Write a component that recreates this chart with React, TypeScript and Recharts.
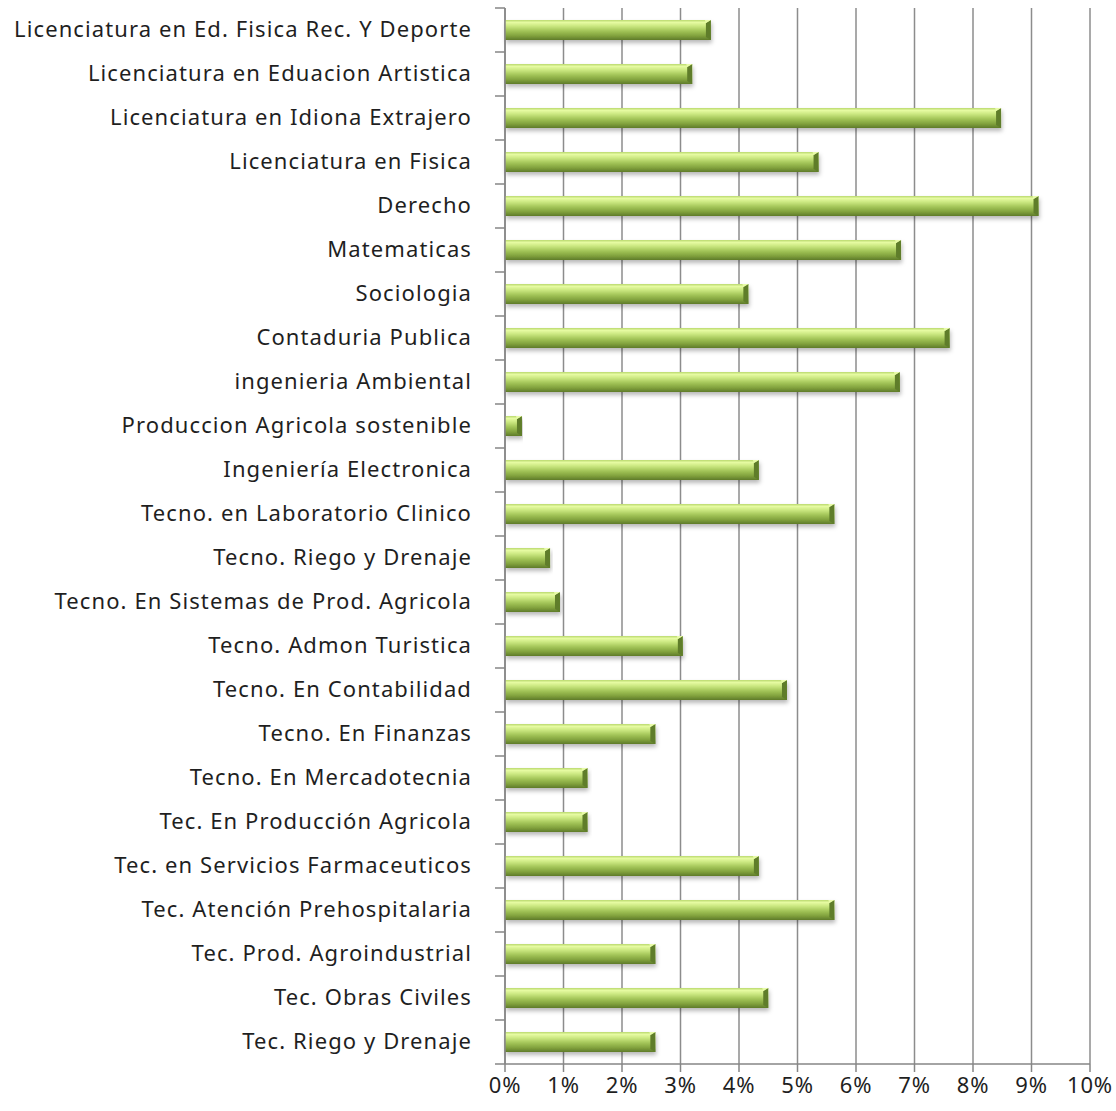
import React from "react";
import { BarChart, Bar, XAxis, YAxis, CartesianGrid } from "recharts";

const careers = [
  "Licenciatura en Ed. Fisica Rec. Y Deporte",
  "Licenciatura en Eduacion Artistica",
  "Licenciatura en Idiona Extrajero",
  "Licenciatura en Fisica",
  "Derecho",
  "Matematicas",
  "Sociologia",
  "Contaduria Publica",
  "ingenieria Ambiental",
  "Produccion Agricola sostenible",
  "Ingeniería Electronica",
  "Tecno. en Laboratorio Clinico",
  "Tecno. Riego y Drenaje",
  "Tecno. En Sistemas de Prod. Agricola",
  "Tecno. Admon Turistica",
  "Tecno. En Contabilidad",
  "Tecno. En Finanzas",
  "Tecno. En Mercadotecnia",
  "Tec. En Producción  Agricola",
  "Tec. en Servicios  Farmaceuticos",
  "Tec. Atención  Prehospitalaria",
  "Tec. Prod.  Agroindustrial",
  "Tec. Obras Civiles",
  "Tec. Riego y Drenaje",
];

const percents = [
  3.52, 3.2, 8.48, 5.36, 9.12, 6.77, 4.16, 7.6, 6.75, 0.29, 4.34, 5.63,
  0.77, 0.94, 3.04, 4.82, 2.57, 1.41, 1.41, 4.34, 5.63, 2.57, 4.5, 2.57,
];

const xTicks = [0, 1, 2, 3, 4, 5, 6, 7, 8, 9, 10];

const data = careers.map((name, i) => ({ name, value: percents[i] }));

const FONT = "'Noto Sans', sans-serif";
const BAND = 44;

// cylinder-looking bar like the Excel preset
const GlossBar = (props: any) => {
  const { x, y, width, height } = props;
  if (!width || width <= 0) return null;
  const cap = Math.min(5, width / 2);
  return (
    <g>
      <rect x={x} y={y} width={width} height={height} fill="url(#barGrad)" filter="url(#barShadow)" />
      <polygon
        points={`${x + width - cap},${y + 3} ${x + width},${y} ${x + width},${y + height} ${x + width - cap},${y + height - 3}`}
        fill="#5f7d2a"
      />
      <polygon
        points={`${x + width - cap},${y + 3} ${x + width},${y} ${x + width - cap - 1},${y}`}
        fill="#e8fba8"
      />
    </g>
  );
};

const CategoryTick = (props: any) => {
  const { x, y, payload, index } = props;
  return (
    <g>
      <line x1={x - 2} x2={x + 8} y1={y + BAND / 2} y2={y + BAND / 2} stroke="#868686" strokeWidth={1.5} />
      {index === 0 && (
        <line x1={x - 2} x2={x + 8} y1={y - BAND / 2} y2={y - BAND / 2} stroke="#868686" strokeWidth={1.5} />
      )}
      <text
        x={x - 25}
        y={y}
        dy={7}
        textAnchor="end"
        fontSize={22}
        letterSpacing={1.1}
        fontFamily={FONT}
        fill="#1f1f1f"
      >
        {payload.value}
      </text>
    </g>
  );
};

export default function App() {
  return (
    <div style={{ position: "absolute", left: 0, top: 0, background: "#fff" }}>
      <BarChart
        width={1116}
        height={1111}
        data={data}
        layout="vertical"
        margin={{ top: 8, right: 26, bottom: 7, left: 0 }}
        barCategoryGap={12}
      >
        <defs>
          <linearGradient id="barGrad" x1="0" y1="0" x2="0" y2="1">
            <stop offset="0%" stopColor="#b9d86e" />
            <stop offset="12%" stopColor="#e6fba2" />
            <stop offset="30%" stopColor="#cbe881" />
            <stop offset="55%" stopColor="#a2c457" />
            <stop offset="78%" stopColor="#82a33e" />
            <stop offset="100%" stopColor="#5f7b29" />
          </linearGradient>
          <filter id="barShadow" x="-5%" y="-30%" width="110%" height="180%">
            <feDropShadow dx="1" dy="3" stdDeviation="2" floodColor="#000" floodOpacity="0.28" />
          </filter>
        </defs>
        <CartesianGrid horizontal={false} stroke="#8c8c8c" strokeWidth={1.5} />
        <XAxis
          type="number"
          domain={[0, 10]}
          ticks={xTicks}
          tickFormatter={(v: number) => `${v}%`}
          interval={0}
          height={40}
          stroke="#868686"
          strokeWidth={1.5}
          tickSize={8}
          tickMargin={5}
          tick={{ fontSize: 22, fontFamily: FONT, fill: "#1f1f1f", letterSpacing: 0.8 }}
        />
        <YAxis
          type="category"
          dataKey="name"
          width={505}
          interval={0}
          stroke="#868686"
          strokeWidth={1.5}
          tickLine={false}
          tick={<CategoryTick />}
        />
        <Bar dataKey="value" barSize={20} shape={<GlossBar />} isAnimationActive={false} />
      </BarChart>
    </div>
  );
}
